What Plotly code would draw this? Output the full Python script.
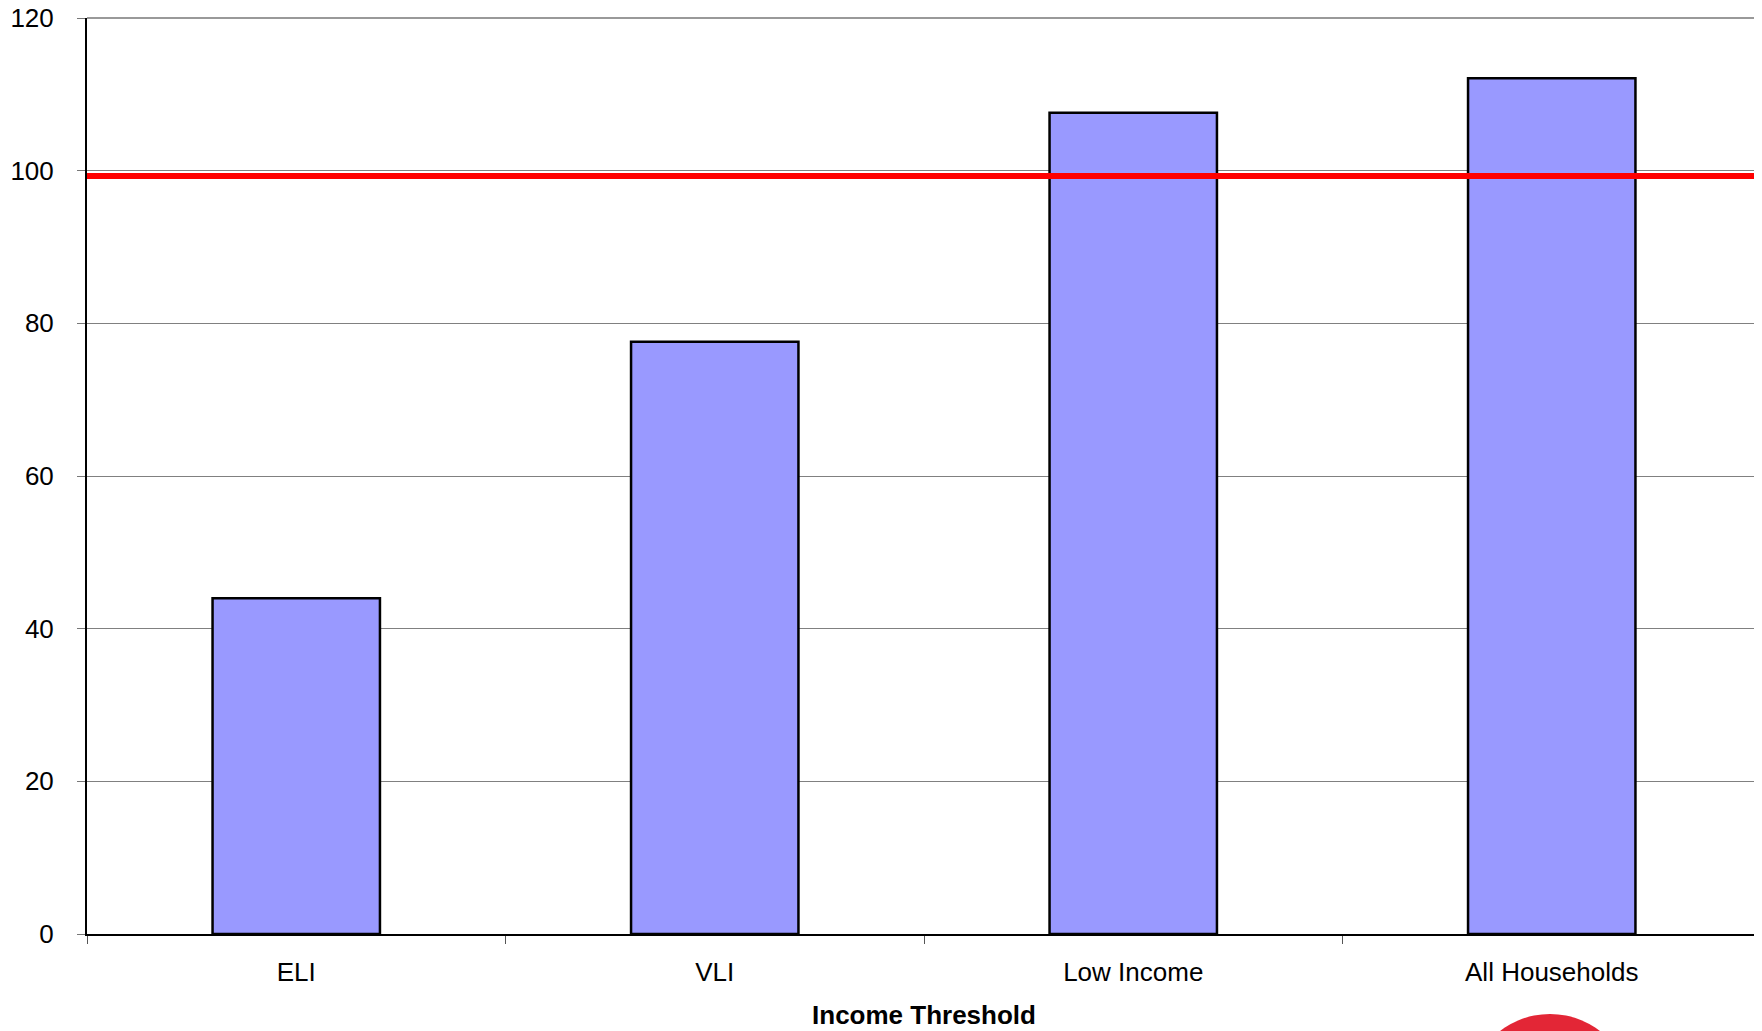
import plotly.graph_objects as go

categories = ["ELI", "VLI", "Low Income", "All Households"]
values = [44.0, 77.6, 107.6, 112.1]
reference_value = 99.3
y_ticks = [0, 20, 40, 60, 80, 100, 120]
x_title = "Income Threshold"

FONT = "Liberation Sans, Arial, sans-serif"

fig = go.Figure()
fig.add_trace(go.Bar(
    x=categories, y=values,
    width=0.4,
    marker=dict(color="#9999ff", line=dict(color="#000000", width=2.5)),
    hoverinfo="x+y",
))

fig.add_shape(type="line", xref="paper", yref="y", x0=0, x1=1,
              y0=reference_value, y1=reference_value,
              line=dict(color="#ff0000", width=6), layer="above")
# top and right borders of the plot area
fig.add_shape(type="line", xref="paper", yref="paper", x0=0, x1=1, y0=1, y1=1,
              line=dict(color="#999999", width=2))
fig.add_shape(type="line", xref="paper", yref="paper", x0=1, x1=1, y0=0, y1=1,
              line=dict(color="#999999", width=2))
# partial red circle decoration at the bottom
fig.add_shape(type="circle", xref="paper", yref="paper",
              x0=(1468 - 87) / 1674, x1=(1632 - 87) / 1674,
              y0=(934 - 1178) / 916, y1=(934 - 1014) / 916,
              fillcolor="#e32636", line=dict(width=0), layer="above")

fig.update_layout(
    width=1762, height=1031,
    margin=dict(l=79, r=9, t=10, b=105),
    paper_bgcolor="white", plot_bgcolor="white",
    showlegend=False,
    font=dict(family=FONT, size=26, color="#000000"),
    bargap=0.6,
)
fig.update_xaxes(
    title=dict(text="<b>" + x_title + "</b>", font=dict(size=26), standoff=20),
    showline=True, linecolor="#000000", linewidth=2,
    ticks="outside", tickson="boundaries", ticklen=8, tickcolor="#555555",
    tickfont=dict(size=26), showgrid=False, ticklabelstandoff=14,
    automargin=False,
)
fig.update_yaxes(
    range=[0, 120], tickvals=y_ticks,
    showline=True, linecolor="#000000", linewidth=2,
    ticks="outside", ticklen=8, tickcolor="#777777",
    showgrid=True, gridcolor="#808080", gridwidth=1,
    zeroline=False, tickfont=dict(size=26), ticklabelstandoff=18,
    ticklabeloverflow="allow", automargin=False,
)

fig.write_html("out.html")
